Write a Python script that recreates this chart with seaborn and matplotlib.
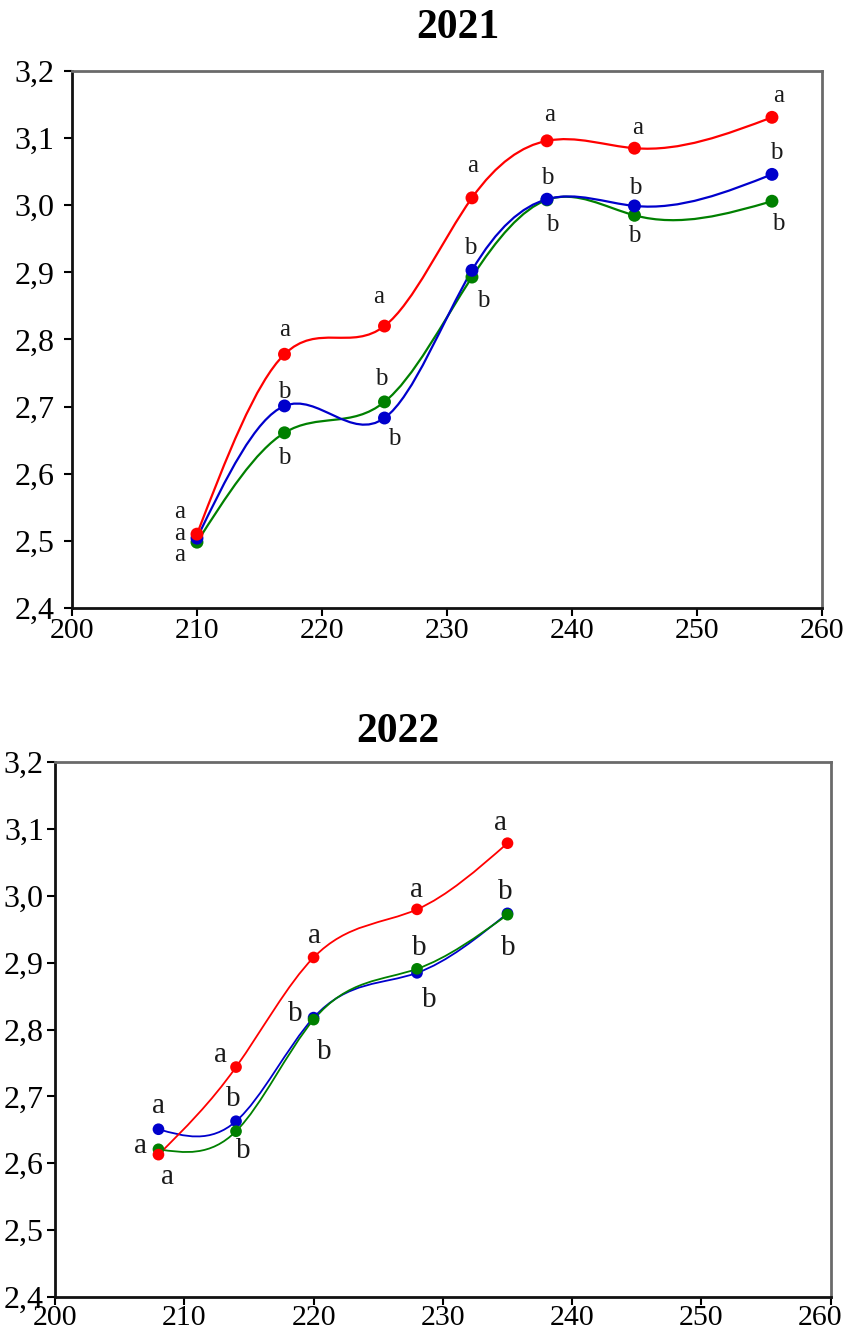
import numpy as np
import pandas as pd
import matplotlib
matplotlib.use('Agg')
import matplotlib.pyplot as plt
from matplotlib.path import Path
from matplotlib.patches import PathPatch
from matplotlib.transforms import ScaledTranslation
import seaborn as sns

# ---- 数据 2021 ----
days_2021 = [210, 217, 225, 232, 238, 245, 256]
red_2021 = [2.510, 2.778, 2.820, 3.011, 3.096, 3.085, 3.131]
blue_2021 = [2.504, 2.701, 2.683, 2.903, 3.009, 2.999, 3.046]
green_2021 = [2.498, 2.661, 2.707, 2.893, 3.008, 2.985, 3.006]
let_red_2021 = ['a', 'a', 'a', 'a', 'a', 'a', 'a']
let_blue_2021 = ['a', 'b', 'b', 'b', 'b', 'b', 'b']
let_green_2021 = ['a', 'b', 'b', 'b', 'b', 'b', 'b']

# ---- 数据 2022 ----
days_2022 = [208, 214, 220, 228, 235]
red_2022 = [2.613, 2.744, 2.908, 2.980, 3.079]
blue_2022 = [2.651, 2.663, 2.818, 2.885, 2.974]
green_2022 = [2.621, 2.648, 2.815, 2.891, 2.972]
let_red_2022 = ['a', 'a', 'a', 'a', 'a']
let_blue_2022 = ['a', 'b', 'b', 'b', 'b']
let_green_2022 = ['a', 'b', 'b', 'b', 'b']

x_ticks = [200, 210, 220, 230, 240, 250, 260]
y_ticks = [2.4, 2.5, 2.6, 2.7, 2.8, 2.9, 3.0, 3.1, 3.2]
y_labels = [f"{v:.1f}".replace('.', ',') for v in y_ticks]

colors = {'red': '#ff0000', 'blue': '#0000cc', 'green': '#008000'}

sns.set_theme(style='ticks')
plt.rcParams['font.family'] = ['Liberation Serif', 'DejaVu Serif']
plt.rcParams['text.color'] = 'black'


def spline_path(x, y):
    """自然三次样条 -> 贝塞尔曲线路径"""
    x = np.asarray(x, float)
    y = np.asarray(y, float)
    n = len(x)
    h = np.diff(x)
    A = np.zeros((n, n))
    rhs = np.zeros(n)
    A[0, 0] = A[-1, -1] = 1
    for i in range(1, n - 1):
        A[i, i - 1] = h[i - 1]
        A[i, i] = 2 * (h[i - 1] + h[i])
        A[i, i + 1] = h[i]
        rhs[i] = 6 * ((y[i + 1] - y[i]) / h[i] - (y[i] - y[i - 1]) / h[i - 1])
    M = np.linalg.solve(A, rhs)
    d = np.empty(n)
    d[:-1] = (y[1:] - y[:-1]) / h - h * (2 * M[:-1] + M[1:]) / 6
    d[-1] = (y[-1] - y[-2]) / h[-1] + h[-1] * (M[-2] + 2 * M[-1]) / 6
    verts = [(x[0], y[0])]
    codes = [Path.MOVETO]
    for i in range(n - 1):
        verts += [(x[i] + h[i] / 3, y[i] + d[i] * h[i] / 3),
                  (x[i + 1] - h[i] / 3, y[i + 1] - d[i + 1] * h[i] / 3),
                  (x[i + 1], y[i + 1])]
        codes += [Path.CURVE4] * 3
    return Path(verts, codes)


def draw_panel(ax, days, series, letters, offsets, order, lw, msize, fsize):
    # 曲线
    for z, name in enumerate(order):
        patch = PathPatch(spline_path(days, series[name]), facecolor='none',
                          edgecolor=colors[name], lw=lw, zorder=2 + z * 0.1)
        ax.add_patch(patch)
    # 点
    df = pd.concat([pd.DataFrame({'day': days, 'value': series[name], 'series': name})
                    for name in order], ignore_index=True)
    sns.scatterplot(data=df, x='day', y='value', hue='series', palette=colors,
                    s=msize ** 2, edgecolor='none', linewidth=0, legend=False,
                    ax=ax, zorder=3)
    # 字母标注
    for name in order:
        for xv, yv, t, off in zip(days, series[name], letters[name], offsets[name]):
            ax.annotate(t, (xv, yv), xytext=off, textcoords='offset pixels',
                        ha='center', va='center', fontsize=fsize, color='#1a1a1a')

    ax.set_xlim(200, 260)
    ax.set_ylim(2.4, 3.2)
    ax.set_xticks(x_ticks)
    ax.set_yticks(y_ticks, y_labels)
    ax.set_xlabel('')
    ax.set_ylabel('')
    ax.set_facecolor('white')
    for side in ['left', 'bottom']:
        ax.spines[side].set_color('#111111')
        ax.spines[side].set_linewidth(2)
    for side in ['top', 'right']:
        ax.spines[side].set_color('#6a6a6a')
        ax.spines[side].set_linewidth(2)
    ax.tick_params(axis='both', direction='out', length=5.5, width=1.5,
                   colors='black', top=False, right=False)
    ax.tick_params(axis='y', labelsize=23)
    ax.tick_params(axis='x', labelsize=21.5)


fig = plt.figure(figsize=(8.48, 13.4), dpi=100)
fig.patch.set_facecolor('white')

# 2021
ax1 = fig.add_axes([0.0849, 0.5463, 0.8844, 0.4007])
offs_2021 = {
    'red': [(-17, 22), (0, 24), (-6, 29), (1, 32), (3, 26), (3, 20), (7, 21)],
    'blue': [(-17, 4), (0, 14), (10, -21), (-2, 22), (0, 21), (1, 18), (4, 21)],
    'green': [(-17, -13), (0, -25), (-3, 23), (11, -24), (5, -25), (0, -21), (6, -23)],
}
draw_panel(ax1, days_2021,
           {'red': red_2021, 'blue': blue_2021, 'green': green_2021},
           {'red': let_red_2021, 'blue': let_blue_2021, 'green': let_green_2021},
           offs_2021, ['green', 'blue', 'red'], lw=1.6, msize=9.3, fsize=18)
ax1.tick_params(axis='y', pad=7)
ax1.tick_params(axis='x', pad=2)
fig.text(457.5 / 848, 1 - 28.5 / 1340, '2021', ha='center', va='center',
         fontsize=30, fontweight='bold', color='black')

# 2022
ax2 = fig.add_axes([0.0649, 0.0321, 0.9147, 0.399])
offs_2022 = {
    'red': [(9, -22), (-16, 12), (1, 21), (-1, 19), (-7, 20)],
    'blue': [(0, 23), (-3, 22), (-18, 4), (12, -27), (-2, 21)],
    'green': [(-18, 3), (7, -20), (11, -32), (2, 21), (1, -33)],
}
draw_panel(ax2, days_2022,
           {'red': red_2022, 'blue': blue_2022, 'green': green_2022},
           {'red': let_red_2022, 'blue': let_blue_2022, 'green': let_green_2022},
           offs_2022, ['blue', 'green', 'red'], lw=1.3, msize=8.4, fsize=21)
ax2.tick_params(axis='y', pad=2.5)
ax2.tick_params(axis='x', pad=0.5)
# 最后一个刻度标签稍向左移，避免被裁切
last = ax2.get_xticklabels()[-1]
last.set_transform(last.get_transform() + ScaledTranslation(-11 / 100, 0, fig.dpi_scale_trans))
fig.text(397.5 / 848, 1 - 731.5 / 1340, '2022', ha='center', va='center',
         fontsize=30, fontweight='bold', color='black')

fig.savefig('out.png', dpi=100, facecolor='white')
